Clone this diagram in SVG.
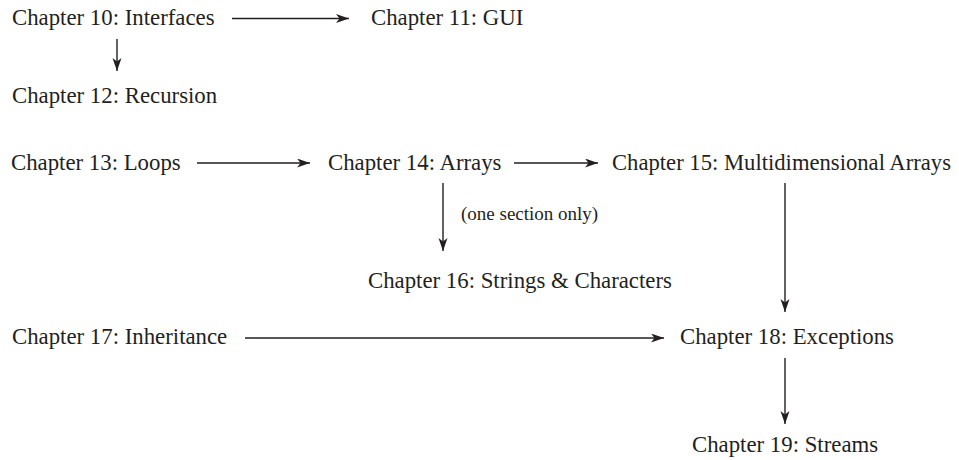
<svg xmlns="http://www.w3.org/2000/svg" width="959" height="460" viewBox="0 0 959 460">
<style>
  text { font-family: "Liberation Serif", "Times New Roman", serif; font-size: 22.8px; fill: #231f20; }
  .lbl { font-size: 19px; }
  .conn line { stroke: #231f20; stroke-width: 1.4; marker-end: url(#ah); }
</style>
<defs>
  <marker id="ah" markerUnits="userSpaceOnUse" markerWidth="14" markerHeight="10" refX="13" refY="4.5" orient="auto">
    <path d="M0,0 L13,4.5 L0,9 L3.5,4.5 z" fill="#231f20"/>
  </marker>
</defs>
<rect width="959" height="460" fill="#ffffff"/>
<g id="ch10"><text x="12" y="25">Chapter 10: Interfaces</text></g>
<g id="ch11"><text x="371" y="25">Chapter 11: GUI</text></g>
<g id="ch12"><text x="12" y="103">Chapter 12: Recursion</text></g>
<g id="ch13"><text x="11" y="170">Chapter 13: Loops</text></g>
<g id="ch14"><text x="328" y="170">Chapter 14: Arrays</text></g>
<g id="ch15"><text x="612" y="170" textLength="339" lengthAdjust="spacingAndGlyphs">Chapter 15: Multidimensional Arrays</text></g>
<g id="ch16"><text x="368" y="288">Chapter 16: Strings &amp; Characters</text></g>
<g id="ch17"><text x="12" y="344">Chapter 17: Inheritance</text></g>
<g id="ch18"><text x="680" y="344">Chapter 18: Exceptions</text></g>
<g id="ch19"><text x="692" y="452">Chapter 19: Streams</text></g>
<g class="conn" id="connectors">
  <line x1="232" y1="18.5" x2="349" y2="18.5"/>
  <line x1="117" y1="39" x2="117" y2="71"/>
  <line x1="197" y1="163" x2="310" y2="163"/>
  <line x1="514" y1="163" x2="598" y2="163"/>
  <line x1="443" y1="183" x2="443" y2="251"/>
  <line x1="785" y1="183" x2="785" y2="312"/>
  <line x1="245" y1="338" x2="664" y2="338"/>
  <line x1="785" y1="358" x2="785" y2="424"/>
  <text class="lbl" x="461" y="220">(one section only)</text>
</g>
</svg>
